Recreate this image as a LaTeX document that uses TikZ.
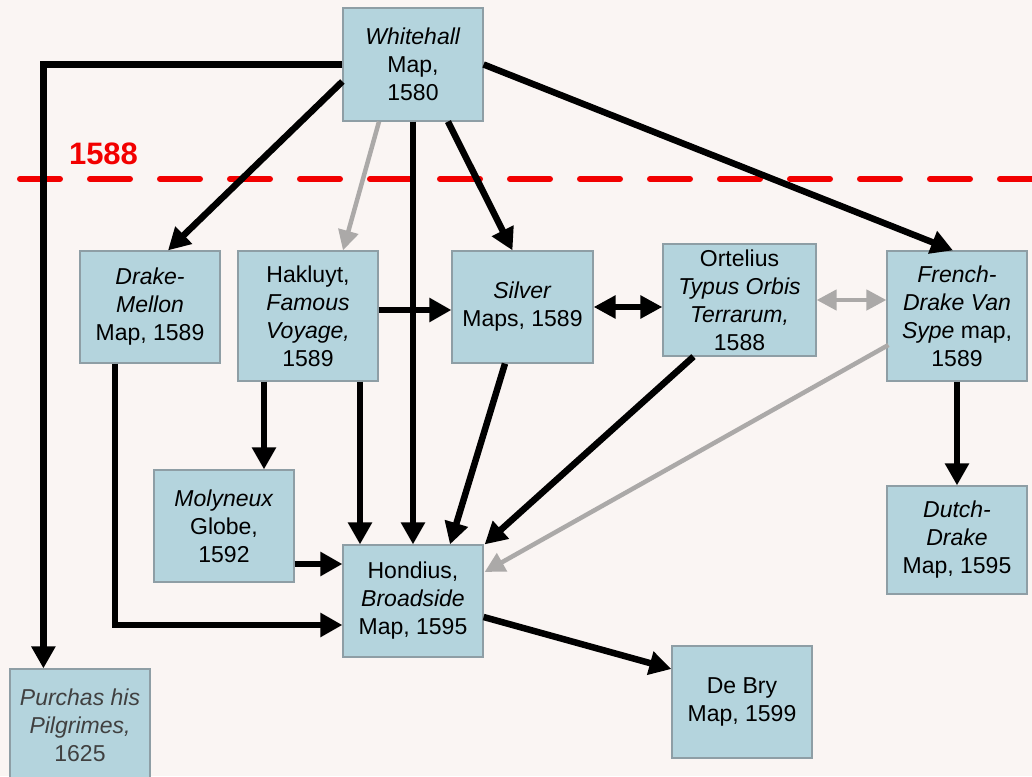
\documentclass[tikz,border=0pt]{standalone}
\usepackage{fontspec}
\setmainfont{Liberation Sans}
\usetikzlibrary{arrows.meta,calc}
\definecolor{bg}{HTML}{FAF5F3}
\definecolor{boxfill}{HTML}{B4D4DD}
\definecolor{boxline}{HTML}{8E9EA5}
\definecolor{garrow}{HTML}{ABA9A8}
\definecolor{pgray}{HTML}{404040}
\definecolor{redline}{HTML}{F20000}
\begin{document}
\begin{tikzpicture}[x=1pt,y=-1pt,
  box/.style={draw=boxline, line width=1.2pt, fill=boxfill, inner sep=0pt, align=center,
    minimum width=140pt, minimum height=112pt, font=\fontsize{23}{28}\selectfont},
  ar/.style={line width=6.5pt, -{Triangle[length=22pt,width=23pt]}},
  dar/.style={line width=6.5pt, {Triangle[length=22pt,width=22pt]}-{Triangle[length=22pt,width=22pt]}},
  gar/.style={draw=garrow, line width=4.5pt, -{Triangle[length=20pt,width=20pt]}},
  gdar/.style={draw=garrow, line width=4.5pt, {Triangle[length=20pt,width=20pt]}-{Triangle[length=20pt,width=20pt]}}]
\fill[bg] (0,0) rectangle (1032,776);
\clip (0,0) rectangle (1032,776);
% 1588 line
\draw[redline, line width=6pt, dash pattern=on 40pt off 30pt, line cap=round] (20,179) -- (1040,179);
\node[text=redline, inner sep=0pt, font=\bfseries\fontsize{31}{31}\selectfont] (yr) at (103.5,153.5) {1588};
% boxes
\node[box, minimum height=113pt] (wh) at (413,64.5) {\textit{Whitehall}\\Map,\\1580};
\node[box] (dm) at (150,307) {\textit{Drake-}\\\textit{Mellon}\\Map, 1589};
\node[box, minimum height=130pt] (hak) at (308,316) {Hakluyt,\\\textit{Famous}\\\textit{Voyage,}\\1589};
\node[box, minimum width=141pt] (sil) at (522.5,307) {\textit{Silver}\\Maps, 1589};
\node[box, minimum width=153pt] (ort) at (739.5,300) {Ortelius\\\textit{Typus Orbis}\\\textit{Terrarum,}\\1588};
\node[box, minimum height=130pt] (fr) at (957,316) {\textit{French-}\\\textit{Drake Van}\\\textit{Sype} map,\\1589};
\node[box] (mol) at (224,526) {\textit{Molyneux}\\Globe,\\1592};
\node[box] (hon) at (413,601) {Hondius,\\\textit{Broadside}\\Map, 1595};
\node[box, text=pgray] (pur) at (80,725) {\textit{Purchas his}\\\textit{Pilgrimes,}\\1625};
\node[box, minimum height=108pt] (dd) at (957,540) {\textit{Dutch-}\\\textit{Drake}\\Map, 1595};
\node[box] (db) at (742,702) {De Bry\\Map, 1599};
% connectors
\coordinate (purin) at ($(pur.north west)+(34,0)$);
\draw[ar] (wh.west) -| (purin);
\draw[ar] ($(wh.west)+(0,17)$) -- ($(dm.north)+(18,0)$);
\draw[gar] ($(wh.south)+(-34,0)$) -- ($(hak.north)+(35,0)$);
\draw[ar] (wh.south) -- (hon.north);
\draw[ar] ($(wh.south)+(35,0)$) -- ($(sil.north)+(-10,0)$);
\draw[ar] (wh.east) -- ($(fr.north)+(-4,0)$);
\draw[ar] ($(hak.east)+(0,-6)$) -- ($(sil.west)+(0,3)$);
\draw[ar] ($(hak.south)+(-44,0)$) -- ($(mol.north)+(40,0)$);
\draw[ar] ($(hak.south)+(52,0)$) -- ($(hon.north)+(-53,0)$);
\draw[dar] (sil.east) -- ($(ort.west)+(0,7)$);
\draw[gdar] (ort.east) -- ($(fr.west)+(0,-16)$);
\draw[ar] ($(sil.south)+(-17.5,0)$) -- ($(hon.north)+(37,0)$);
\draw[ar] ($(ort.south)+(-46,0)$) -- ($(hon.north east)+(1,0)$);
\draw[gar] ($(fr.west)+(2,29)$) -- ($(hon.east)+(1,-29)$);
\draw[ar] (fr.south) -- (dd.north);
\draw[ar] ($(mol.east)+(0,38)$) -- ($(hon.west)+(0,-37)$);
\draw[ar] ($(dm.south)+(-35,0)$) |- ($(hon.west)+(0,24)$);
\draw[ar] ($(hon.east)+(0,16)$) -- ($(db.west)+(0,-33)$);
\end{tikzpicture}
\end{document}
